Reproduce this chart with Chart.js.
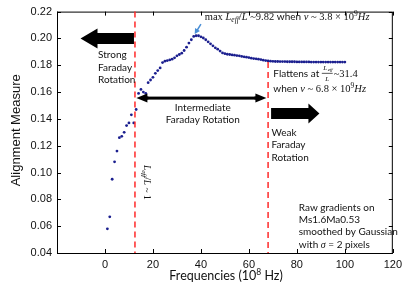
<!DOCTYPE html>
<html>
<head>
<meta charset="utf-8">
<script src="https://cdn.jsdelivr.net/npm/chart.js@4"></script>
<style>
  html, body { margin: 0; padding: 0; background: #fff; }
  #wrap { width: 407px; height: 284px; }
</style>
</head>
<body>
<div id="wrap"><canvas id="alignChart" width="407" height="284"></canvas></div>
<script>
// frequencies in units of 10^8 Hz
const freq = [1, 2, 3, 4, 5, 6, 7, 8, 9, 10,
  11, 12, 13, 14, 15, 16, 17, 18, 19, 20,
  21, 22, 23, 24, 25, 26, 27, 28, 29, 30,
  31, 32, 33, 34, 35, 36, 37, 38, 39, 40,
  41, 42, 43, 44, 45, 46, 47, 48, 49, 50,
  51, 52, 53, 54, 55, 56, 57, 58, 59, 60,
  61, 62, 63, 64, 65, 66, 67, 68, 69, 70,
  71, 72, 73, 74, 75, 76, 77, 78, 79, 80,
  81, 82, 83, 84, 85, 86, 87, 88, 89, 90,
  91, 92, 93, 94, 95, 96, 97, 98, 99, 100];
const alignment = [0.058, 0.067, 0.095, 0.108, 0.116, 0.126, 0.127, 0.130, 0.135, 0.137,
  0.143, 0.137, 0.147, 0.159, 0.162, 0.160, 0.159, 0.167, 0.169, 0.171,
  0.174, 0.176, 0.178, 0.182, 0.183, 0.1835, 0.184, 0.1845, 0.1855, 0.187,
  0.188, 0.189, 0.191, 0.1935, 0.1965, 0.199, 0.2015, 0.202, 0.202, 0.2012,
  0.2003, 0.199, 0.1975, 0.196, 0.1945, 0.193, 0.192, 0.1906, 0.1892, 0.1886,
  0.1882, 0.188, 0.1877, 0.1875, 0.1872, 0.187, 0.1866, 0.1863, 0.186, 0.1857,
  0.1853, 0.185, 0.1848, 0.1845, 0.1842, 0.1838, 0.1835, 0.1832, 0.183, 0.1829,
  0.1828, 0.1828, 0.1827, 0.1827, 0.1827, 0.1826, 0.1826, 0.1826, 0.1826, 0.1825,
  0.1825, 0.1825, 0.1825, 0.1825, 0.1825, 0.1824, 0.1824, 0.1824, 0.1824, 0.1824,
  0.1824, 0.1824, 0.1824, 0.1824, 0.1824, 0.1824, 0.1824, 0.1824, 0.1824, 0.1824];
// regime boundaries (10^8 Hz)
const boundaries = [12.5, 68];

const sans = '"Lato", "Open Sans", sans-serif';
const serif = '"Liberation Serif", "DejaVu Serif", serif';

function blockArrow(ctx, x0, x1, yc, shaft, headH, headL) {
  const dir = Math.sign(x1 - x0);
  const hb = x1 - dir * headL;
  ctx.beginPath();
  ctx.moveTo(x0, yc - shaft / 2);
  ctx.lineTo(hb, yc - shaft / 2);
  ctx.lineTo(hb, yc - headH / 2);
  ctx.lineTo(x1, yc);
  ctx.lineTo(hb, yc + headH / 2);
  ctx.lineTo(hb, yc + shaft / 2);
  ctx.lineTo(x0, yc + shaft / 2);
  ctx.closePath();
  ctx.fill();
}

// draws a run of text pieces: {t, font, dy}
function richText(ctx, x, y, parts) {
  ctx.textAlign = 'left';
  ctx.textBaseline = 'alphabetic';
  parts.forEach(p => {
    ctx.font = p.font;
    ctx.fillText(p.t, x, y + (p.dy || 0));
    x += ctx.measureText(p.t).width;
  });
  return x;
}

const overlay = {
  id: 'overlay',
  afterDraw(chart) {
    const { ctx, chartArea: a, scales: { x, y } } = chart;
    ctx.save();

    // box and inward ticks
    ctx.strokeStyle = '#000';
    ctx.lineWidth = 1;
    ctx.strokeRect(a.left + 0.5, a.top + 0.5, a.right - a.left - 1, a.bottom - a.top);
    ctx.beginPath();
    y.ticks.forEach(t => {
      const py = Math.round(y.getPixelForValue(t.value)) + 0.5;
      ctx.moveTo(a.left, py); ctx.lineTo(a.left + 4, py);
      ctx.moveTo(a.right, py); ctx.lineTo(a.right - 4, py);
    });
    x.ticks.forEach(t => {
      const px = Math.round(x.getPixelForValue(t.value)) + 0.5;
      ctx.moveTo(px, a.bottom); ctx.lineTo(px, a.bottom - 4);
      ctx.moveTo(px, a.top); ctx.lineTo(px, a.top + 4);
    });
    ctx.stroke();

    // regime boundaries
    ctx.strokeStyle = '#ff2a2a';
    ctx.lineWidth = 1.5;
    ctx.setLineDash([6, 4]);
    ctx.beginPath();
    const b1 = x.getPixelForValue(boundaries[0]);
    ctx.moveTo(b1, a.top); ctx.lineTo(b1, a.bottom);
    const b2 = x.getPixelForValue(boundaries[1]);
    ctx.moveTo(b2, y.getPixelForValue(0.1825)); ctx.lineTo(b2, a.bottom);
    ctx.stroke();
    ctx.setLineDash([]);

    // arrows
    ctx.fillStyle = '#000';
    blockArrow(ctx, b1 - 1, x.getPixelForValue(-10.2), y.getPixelForValue(0.2), 11, 20, 17);
    blockArrow(ctx, b2 + 3, x.getPixelForValue(89.4), y.getPixelForValue(0.144), 11, 20, 11);
    const ym = y.getPixelForValue(0.1555);
    const xl = x.getPixelForValue(13.1), xr = x.getPixelForValue(67.3);
    ctx.fillRect(xl + 8, ym - 1.5, xr - xl - 16, 3);
    blockArrow(ctx, xl + 12, xl, ym, 3, 9, 11);
    blockArrow(ctx, xr - 12, xr, ym, 3, 9, 11);

    // blue pointer to the maximum
    ctx.strokeStyle = ctx.fillStyle = '#4a8fd6';
    ctx.lineWidth = 1.5;
    const px0 = x.getPixelForValue(40), py0 = y.getPixelForValue(0.2107);
    const px1 = x.getPixelForValue(37.4), py1 = y.getPixelForValue(0.2033);
    ctx.beginPath(); ctx.moveTo(px0, py0); ctx.lineTo(px1 + 2, py1 - 3); ctx.stroke();
    const ang = Math.atan2(py1 - py0, px1 - px0);
    ctx.beginPath();
    ctx.moveTo(px1, py1);
    ctx.lineTo(px1 - 6 * Math.cos(ang - 0.5), py1 - 6 * Math.sin(ang - 0.5));
    ctx.lineTo(px1 - 6 * Math.cos(ang + 0.5), py1 - 6 * Math.sin(ang + 0.5));
    ctx.closePath(); ctx.fill();

    // regime labels
    ctx.fillStyle = '#111';
    ctx.font = '10px ' + sans;
    ctx.textBaseline = 'middle';
    ctx.textAlign = 'left';
    let tx = x.getPixelForValue(-2.9), ty = y.getPixelForValue(0.1876);
    ['Strong', 'Faraday', 'Rotation'].forEach((s, i) => ctx.fillText(s, tx, ty + i * 12.5));
    tx = x.getPixelForValue(69.4); ty = y.getPixelForValue(0.130);
    ['Weak', 'Faraday', 'Rotation'].forEach((s, i) => ctx.fillText(s, tx, ty + i * 12.5));
    ctx.textAlign = 'center';
    tx = x.getPixelForValue(40.8); ty = y.getPixelForValue(0.1485);
    ctx.fillText('Intermediate', tx, ty);
    ctx.fillText('Faraday Rotation', tx, ty + 12);
    ctx.textAlign = 'left';
    tx = x.getPixelForValue(80.8); ty = y.getPixelForValue(0.074);
    ['Raw gradients on', 'Ms1.6Ma0.53', 'smoothed by Gaussian'].forEach((s, i) => ctx.fillText(s, tx, ty + i * 12.4));
    richText(ctx, tx, ty + 3 * 12.4 + 3.5, [
      { t: 'with ', font: '10px ' + sans },
      { t: '\u03c3', font: 'italic 10px ' + serif },
      { t: ' = 2 pixels', font: '10px ' + sans }
    ]);

    // maximum annotation
    const m = '10.5px ' + serif, mi = 'italic 10.5px ' + serif, ms = 'italic 7.5px ' + serif;
    richText(ctx, x.getPixelForValue(41.6), y.getPixelForValue(0.2164) + 4, [
      { t: 'max ', font: m }, { t: 'L', font: mi }, { t: 'eff', font: ms, dy: 2 },
      { t: '/', font: m }, { t: 'L', font: mi }, { t: ' ~9.82 ', font: m },
      { t: 'when ', font: '10px ' + sans }, { t: '\u03bd', font: mi },
      { t: ' ~ 3.8 \u00d7 10', font: m }, { t: '9', font: '7.5px ' + serif, dy: -4 },
      { t: 'Hz', font: mi }
    ]);

    // flattening annotation
    tx = x.getPixelForValue(70.2); ty = y.getPixelForValue(0.1743) + 4;
    let ex = richText(ctx, tx, ty, [{ t: 'Flattens at ', font: '10px ' + sans }]);
    ctx.font = 'italic 7px ' + serif;
    const fw = ctx.measureText('Leff').width;
    ctx.textAlign = 'center';
    ctx.fillText('L', ex + fw / 2 - 2, ty - 7);
    ctx.font = 'italic 5px ' + serif;
    ctx.fillText('eff', ex + fw / 2 + 3, ty - 6);
    ctx.font = 'italic 7px ' + serif;
    ctx.fillText('L', ex + fw / 2, ty + 4);
    ctx.fillRect(ex, ty - 4, fw, 0.7);
    richText(ctx, ex + fw + 1, ty, [{ t: '~31.4', font: m }]);
    richText(ctx, tx, y.getPixelForValue(0.1632) + 4, [
      { t: 'when ', font: '10px ' + sans }, { t: '\u03bd', font: mi },
      { t: ' ~ 6.8 \u00d7 10', font: m }, { t: '9', font: '7.5px ' + serif, dy: -4 },
      { t: 'Hz', font: mi }
    ]);

    // rotated L_eff/L ~ 1
    ctx.save();
    ctx.translate(x.getPixelForValue(16.4), y.getPixelForValue(0.1057));
    ctx.rotate(Math.PI / 2);
    richText(ctx, 0, 0, [
      { t: 'L', font: 'italic 9.5px ' + serif }, { t: 'eff', font: 'italic 7px ' + serif, dy: 2 },
      { t: '/', font: '9.5px ' + serif }, { t: 'L', font: 'italic 9.5px ' + serif },
      { t: ' ~ 1', font: '9.5px ' + serif }
    ]);
    ctx.restore();

    // axis titles
    ctx.fillStyle = '#111';
    ctx.textAlign = 'center';
    ctx.textBaseline = 'middle';
    ctx.font = '12.5px ' + sans;
    richText(ctx, x.getPixelForValue(51) - 58, 280, [
      { t: 'Frequencies (10', font: '12.5px ' + sans },
      { t: '8', font: '8.5px ' + sans, dy: -5 },
      { t: ' Hz)', font: '12.5px ' + sans }
    ]);
    ctx.save();
    ctx.translate(16, (a.top + a.bottom) / 2 - 2);
    ctx.rotate(-Math.PI / 2);
    ctx.textAlign = 'center';
    ctx.textBaseline = 'middle';
    ctx.font = '13px "Liberation Sans", Arial, sans-serif';
    ctx.fillText('Alignment Measure', 0, 0);
    ctx.restore();

    ctx.restore();
  }
};

const ctx = document.getElementById('alignChart').getContext('2d');
const alignChart = new Chart(ctx, {
  type: 'scatter',
  data: {
    datasets: [{
      label: 'Alignment',
      data: freq.map((f, i) => ({ x: f, y: alignment[i] })),
      backgroundColor: '#1b1f8f',
      borderColor: '#1b1f8f',
      pointRadius: 1.4,
      pointBorderWidth: 0
    }]
  },
  options: {
    responsive: false,
    animation: false,
    layout: { padding: { top: 10, right: 8, left: 0, bottom: 0 } },
    plugins: { legend: { display: false }, tooltip: { enabled: false } },
    scales: {
      x: {
        type: 'linear',
        min: -20,
        max: 120,
        grid: { display: false, drawTicks: false },
        border: { display: false },
        ticks: {
          stepSize: 20,
          padding: 5,
          color: '#111',
          font: { family: '"Liberation Sans", Arial, sans-serif', size: 11 },
          callback: v => (v < 0 ? '' : v)
        },
        afterFit: s => { s.height = 31; }
      },
      y: {
        min: 0.04,
        max: 0.22,
        grid: { display: false, drawTicks: false },
        border: { display: false },
        ticks: {
          stepSize: 0.02,
          padding: 5,
          color: '#111',
          font: { family: '"Liberation Sans", Arial, sans-serif', size: 11 },
          callback: v => v.toFixed(2)
        },
        afterFit: s => { s.width = 57; }
      }
    }
  },
  plugins: [overlay]
});
</script>
</body>
</html>
